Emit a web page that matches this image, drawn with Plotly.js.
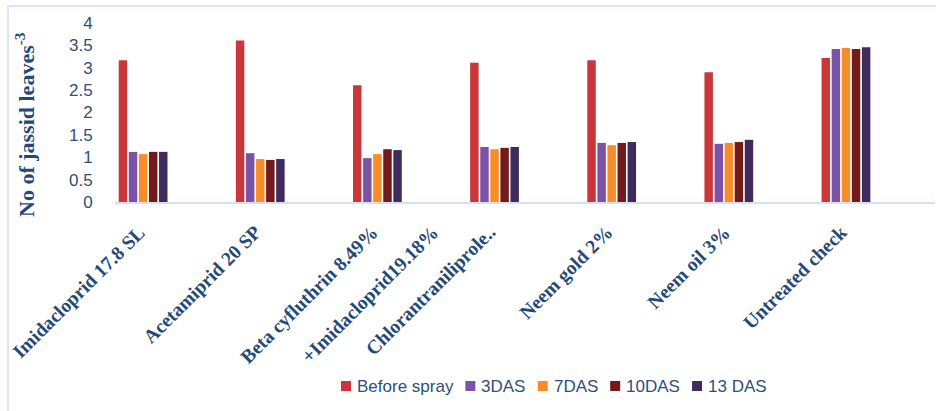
<!DOCTYPE html>
<html>
<head>
<meta charset="utf-8">
<script src="https://cdn.plot.ly/plotly-3.0.1.min.js"></script>
<style>
  html, body { margin: 0; padding: 0; background: #ffffff; }
  #frame { position: absolute; left: 7px; top: 5px; width: 940px; height: 420px; border: 2px solid #dbe6f4; box-sizing: border-box; }
  #chart { position: absolute; left: 0; top: 0; width: 936px; height: 411px; }
</style>
</head>
<body>
<div id="frame"></div>
<div id="chart"></div>
<script>
const categories = [
  "Imidacloprid 17.8 SL",
  "Acetamiprid 20 SP",
  "Beta cyfluthrin 8.49% +Imidacloprid19.18%",
  "Chlorantraniliprole..",
  "Neem gold 2%",
  "Neem oil 3%",
  "Untreated check"
];
// tick label lines per category (third label is drawn on two lines)
const tickLabelLines = [
  ["Imidacloprid 17.8 SL"],
  ["Acetamiprid 20 SP"],
  ["Beta cyfluthrin 8.49%", "+Imidacloprid19.18%"],
  ["Chlorantraniliprole.."],
  ["Neem gold 2%"],
  ["Neem oil 3%"],
  ["Untreated check"]
];
const seriesNames = ["Before spray", "3DAS", "7DAS", "10DAS", "13 DAS"];
const beforeSpray = [3.17, 3.61, 2.61, 3.11, 3.17, 2.90, 3.22];
const das3  = [1.12, 1.09, 0.98, 1.23, 1.32, 1.30, 3.42];
const das7  = [1.07, 0.96, 1.07, 1.18, 1.27, 1.32, 3.44];
const das10 = [1.12, 0.94, 1.18, 1.21, 1.32, 1.34, 3.42];
const das13 = [1.12, 0.96, 1.16, 1.23, 1.34, 1.39, 3.46];
const yTicks = [0, 0.5, 1, 1.5, 2, 2.5, 3, 3.5, 4];
const yTickText = ["0", "0.5", "1", "1.5", "2", "2.5", "3", "3.5", "4"];
const yTitle = "No of jassid leaves<sup>-3</sup>";
const colors = ["#c9373a", "#7b52a6", "#f68d28", "#731a1a", "#3f2b5c"];

// plot geometry (px)
const W = 936, H = 411;
const M = { l: 115, r: 1, t: 23, b: 209 };
const plotW = W - M.l - M.r, plotH = H - M.t - M.b;
const px2paperX = px => (px - M.l) / plotW;
const px2paperY = py => (M.t + plotH - py) / plotH;

const seriesValues = [beforeSpray, das3, das7, das10, das13];
const traces = seriesValues.map((vals, i) => ({
  type: "bar",
  name: seriesNames[i],
  x: categories,
  y: vals,
  marker: { color: colors[i], line: { width: 0 } },
  hoverinfo: "none",
  showlegend: false
}));

const xLabelFont = { family: "Liberation Serif, Times New Roman, serif", size: 19.5, color: "#1f4a7a", weight: "bold" };
const annotations = [];
tickLabelLines.forEach((lines, ci) => {
  lines.forEach((line, li) => {
    annotations.push({
      text: line,
      xref: "x", yref: "paper",
      x: categories[ci], y: 0,
      xanchor: "right", yanchor: "top",
      xshift: 5 + li * 60, yshift: -20,
      textangle: -45,
      showarrow: false,
      borderpad: 0, borderwidth: 0,
      font: xLabelFont
    });
  });
});

annotations.push({
  text: yTitle,
  xref: "paper", yref: "paper",
  x: px2paperX(25), y: px2paperY(125),
  xanchor: "center", yanchor: "middle",
  textangle: -90,
  showarrow: false,
  font: { family: "Liberation Serif, Times New Roman, serif", size: 22, color: "#1f4a7a", weight: "bold" }
});

// legend (drawn as shapes + text so spacing matches)
const legendFontSize = 17;
const legendFont = { family: "Liberation Sans, Arial, sans-serif", size: legendFontSize, color: "#2e4f7a" };
const ctx = document.createElement("canvas").getContext("2d");
ctx.font = legendFontSize + "px 'Liberation Sans', Arial, sans-serif";
const shapes = [];
let cursor = 341;
const legendY = 386, sw = 10;
seriesNames.forEach((name, i) => {
  shapes.push({
    type: "rect", xref: "paper", yref: "paper",
    x0: px2paperX(cursor), x1: px2paperX(cursor + sw),
    y0: px2paperY(legendY - sw / 2), y1: px2paperY(legendY + sw / 2),
    fillcolor: colors[i], line: { width: 0 }
  });
  const tx = cursor + sw + 6;
  annotations.push({
    text: name,
    xref: "paper", yref: "paper",
    x: px2paperX(tx), y: px2paperY(legendY),
    xanchor: "left", yanchor: "middle",
    showarrow: false, borderpad: 0, borderwidth: 0,
    font: legendFont
  });
  cursor = tx + ctx.measureText(name).width + 12;
});

const layout = {
  width: W,
  height: H,
  margin: M,
  paper_bgcolor: "rgba(0,0,0,0)",
  plot_bgcolor: "rgba(0,0,0,0)",
  barmode: "group",
  bargap: 0.57,
  bargroupgap: 0.16,
  showlegend: false,
  xaxis: {
    type: "category",
    range: [-0.24, 6.76],
    showticklabels: false,
    showgrid: false,
    showline: true,
    linecolor: "#d3e1f2",
    linewidth: 2,
    ticks: "",
    zeroline: false,
    fixedrange: true
  },
  yaxis: {
    range: [0, 4],
    tickvals: yTicks,
    ticktext: yTickText,
    showgrid: false,
    showline: false,
    zeroline: false,
    ticks: "outside",
    ticklen: 18,
    tickcolor: "rgba(0,0,0,0)",
    tickfont: { family: "Liberation Sans, Arial, sans-serif", size: 17, color: "#2e4f7a" },
    fixedrange: true
  },
  annotations: annotations,
  shapes: shapes
};

Plotly.newPlot("chart", traces, layout, { displayModeBar: false, staticPlot: true });
</script>
</body>
</html>
